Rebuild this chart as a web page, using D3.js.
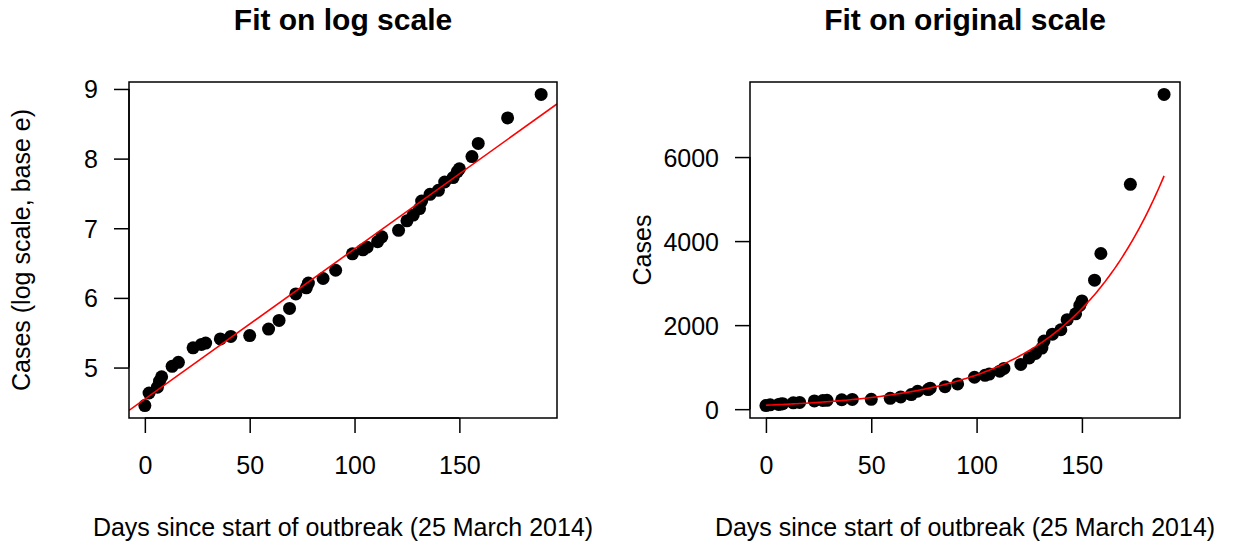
<!DOCTYPE html>
<html>
  <head>
    <meta charset="utf-8">
    <title>Fit on log scale / Fit on original scale</title>
    <style>
      body {
        margin: 0;
        background: #fff;
      }
      svg text {
        font-family: 'Liberation Sans', Arial, Helvetica, sans-serif;
        fill: #000;
      }
      .main {
        font-size: 30px;
        font-weight: bold;
      }
      .lab {
        font-size: 25px;
      }
    </style>
  </head>
  <body>
    <div class="chart"></div>

    <script src="https://d3js.org/d3.v7.min.js"></script>
    <script type="text/javascript">
      // days since 25 March 2014, and cumulative case counts
      var days = [0, 2, 6, 7, 8, 13, 16, 23, 27, 29, 36, 41, 50, 59, 64, 69, 72, 77, 78, 85, 91,
                  99, 104, 106, 111, 113, 121, 125, 128, 131, 132, 136, 140, 143, 147, 149, 150,
                  156, 159, 173, 189];
      var cases = [86, 103, 112, 122, 130, 151, 160, 197, 207, 211, 224, 232, 235, 258, 292, 347, 427, 466, 499, 533, 600,
                   760, 805, 835, 905, 970, 1065, 1220, 1325, 1455, 1620, 1785, 1890, 2130, 2270, 2470, 2575,
                   3070, 3705, 5350, 7490];

      // linear fit of log(cases) on days
      var fitIntercept = 4.547;
      var fitSlope = 0.02156;

      var xTicks = [0, 50, 100, 150];
      var yTicksLog = [5, 6, 7, 8, 9];
      var yTicksOrig = [0, 2000, 4000, 6000];

      var data = days.map(function(d, i) { return {day: d, cases: cases[i], logc: Math.log(cases[i])}; });

      var W = 1234, H = 545;
      var svg = d3.select(".chart").append("svg")
        .attr("width", W)
        .attr("height", H);

      // R style axis range: data range padded by 4% each side
      function rPad(ext) {
        var p = (ext[1] - ext[0]) * 0.04;
        return [ext[0] - p, ext[1] + p];
      }

      var plotTop = 82, plotBottom = 418, tickLen = 15;

      function panel(opt) {
        var x = d3.scaleLinear().domain(rPad(d3.extent(data, function(d) { return d.day; }))).range([opt.left, opt.right]);
        var y = d3.scaleLinear().domain(rPad(d3.extent(data, opt.val))).range([plotBottom, plotTop]);

        var g = svg.append("g");

        var clipId = "clip" + opt.id;
        g.append("clipPath").attr("id", clipId)
          .append("rect")
          .attr("x", opt.left).attr("y", plotTop)
          .attr("width", opt.right - opt.left).attr("height", plotBottom - plotTop);

        // points
        g.append("g").selectAll("circle")
          .data(data).enter()
          .append("circle")
          .attr("cx", function(d) { return x(d.day); })
          .attr("cy", function(d) { return y(opt.val(d)); })
          .attr("r", 6.5)
          .attr("fill", "#000");

        // fit
        g.append("path")
          .datum(opt.fitX(x))
          .attr("clip-path", "url(#" + clipId + ")")
          .attr("fill", "none")
          .attr("stroke", "#ff0000")
          .attr("stroke-width", 1.6)
          .attr("d", d3.line()
            .x(function(d) { return x(d); })
            .y(function(d) { return y(opt.fit(d)); }));

        // box
        g.append("rect")
          .attr("x", opt.left).attr("y", plotTop)
          .attr("width", opt.right - opt.left).attr("height", plotBottom - plotTop)
          .attr("fill", "none")
          .attr("stroke", "#000")
          .attr("stroke-width", 1.5);

        // x axis
        var gx = g.append("g")
          .attr("transform", "translate(0," + plotBottom + ")")
          .call(d3.axisBottom(x).tickValues(xTicks).tickSize(tickLen).tickPadding(0).tickFormat(d3.format("d")));
        gx.attr("font-family", null).attr("font-size", null);
        gx.select(".domain")
          .attr("d", "M" + x(xTicks[0]) + ",0H" + x(xTicks[xTicks.length - 1]))
          .attr("stroke-width", 1.5);
        gx.selectAll(".tick line").attr("stroke-width", 1.5);
        gx.selectAll(".tick text")
          .attr("class", "lab")
          .attr("y", 56)
          .attr("dy", null);

        // y axis
        var gy = g.append("g")
          .attr("transform", "translate(" + opt.left + ",0)")
          .call(d3.axisLeft(y).tickValues(opt.yTicks).tickSize(tickLen).tickPadding(0).tickFormat(d3.format("d")));
        gy.attr("font-family", null).attr("font-size", null);
        gy.select(".domain")
          .attr("d", "M0," + y(opt.yTicks[0]) + "V" + y(opt.yTicks[opt.yTicks.length - 1]))
          .attr("stroke-width", 1.5);
        gy.selectAll(".tick line").attr("stroke-width", 1.5);
        gy.selectAll(".tick text")
          .attr("class", "lab")
          .attr("x", -31)
          .attr("dy", 9);

        // titles
        var cx = (opt.left + opt.right) / 2;
        g.append("text")
          .attr("class", "main")
          .attr("x", cx).attr("y", 30)
          .attr("text-anchor", "middle")
          .text(opt.title);

        g.append("text")
          .attr("class", "lab")
          .attr("x", cx).attr("y", 536)
          .attr("text-anchor", "middle")
          .text("Days since start of outbreak (25 March 2014)");

        g.append("text")
          .attr("class", "lab")
          .attr("transform", "translate(" + (opt.left - 99) + "," + ((plotTop + plotBottom) / 2) + ") rotate(-90)")
          .attr("text-anchor", "middle")
          .text(opt.ylab);
      }

      panel({
        id: 1, left: 129, right: 557,
        val: function(d) { return d.logc; },
        yTicks: yTicksLog,
        fit: function(t) { return fitIntercept + fitSlope * t; },
        fitX: function(x) { return x.domain(); },
        title: "Fit on log scale",
        ylab: "Cases (log scale, base e)"
      });

      panel({
        id: 2, left: 750, right: 1180,
        val: function(d) { return d.cases; },
        yTicks: yTicksOrig,
        fit: function(t) { return Math.exp(fitIntercept + fitSlope * t); },
        fitX: function(x) { return d3.range(0, 190, 1); },
        title: "Fit on original scale",
        ylab: "Cases"
      });
    </script>
  </body>
</html>
